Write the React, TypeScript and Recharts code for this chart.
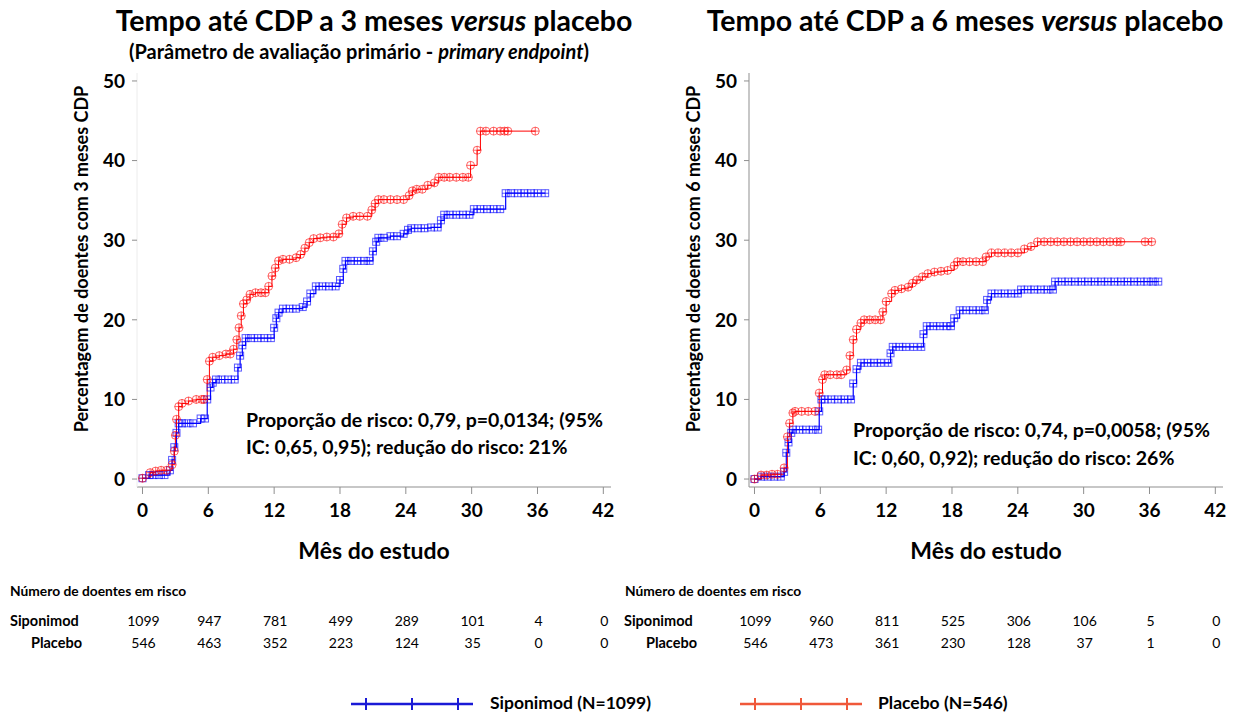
import React from "react";
import { LineChart, Line, XAxis, YAxis } from "recharts";

// months on the x axis (also the columns of the risk table)
const monthTicks = [0, 6, 12, 18, 24, 30, 36, 42];
const pctTicks = [0, 10, 20, 30, 40, 50];

// number of patients at risk, per month tick
const riskSipo3 = [1099, 947, 781, 499, 289, 101, 4, 0];
const riskPlac3 = [546, 463, 352, 223, 124, 35, 0, 0];
const riskSipo6 = [1099, 960, 811, 525, 306, 106, 5, 0];
const riskPlac6 = [546, 473, 361, 230, 128, 37, 1, 0];

// Kaplan-Meier curves: [month, % with CDP]
const sipo3: [number, number][] = [
  [0, 0.1], [0.6, 0.5], [1.0, 0.5], [1.5, 0.5], [2.0, 0.5], [2.5, 1.1], [2.7, 2.4], [2.9, 4.0],
  [3.1, 5.8], [3.3, 7.0], [3.6, 7.0], [4.1, 7.0], [4.6, 7.0], [5.3, 7.6], [5.7, 7.6], [5.9, 10.0],
  [6.2, 11.5], [6.4, 12.1], [6.7, 12.5], [7.2, 12.5], [7.8, 12.5], [8.4, 12.5], [8.7, 14.0],
  [8.9, 15.5], [9.1, 16.8], [9.4, 17.7], [9.9, 17.7], [10.5, 17.7], [11.1, 17.7], [11.7, 17.7],
  [12.0, 19.0], [12.2, 20.2], [12.4, 20.9], [12.8, 21.4], [13.4, 21.4], [14.0, 21.4], [14.6, 21.6],
  [15.0, 22.3], [15.3, 23.3], [15.8, 24.2], [16.4, 24.2], [17.0, 24.2], [17.6, 24.2], [18.0, 25.0],
  [18.3, 26.4], [18.5, 27.4], [19.0, 27.4], [19.6, 27.4], [20.2, 27.4], [20.7, 27.4], [21.0, 28.6],
  [21.3, 29.8], [21.5, 30.3], [22.0, 30.3], [22.6, 30.5], [23.2, 30.5], [23.8, 30.8], [24.2, 31.3],
  [24.5, 31.5], [25.1, 31.5], [25.7, 31.5], [26.3, 31.6], [26.9, 31.6], [27.2, 32.5], [27.5, 33.2],
  [28.0, 33.2], [28.6, 33.2], [29.2, 33.2], [29.8, 33.2], [30.2, 33.9], [30.8, 33.9], [31.4, 33.9],
  [32.0, 33.9], [32.6, 33.9], [33.1, 35.9], [33.6, 35.9], [34.2, 35.9], [34.8, 35.9], [35.4, 35.9],
  [36.0, 35.9], [36.7, 35.9],
];
const plac3: [number, number][] = [
  [0, 0.1], [0.7, 0.8], [1.2, 1.0], [1.7, 1.1], [2.2, 1.1], [2.7, 1.8], [2.9, 3.5], [3.0, 5.5],
  [3.1, 7.5], [3.3, 9.1], [3.6, 9.5], [4.2, 9.8], [4.9, 10.0], [5.4, 10.0], [5.6, 10.0], [5.9, 12.5],
  [6.1, 14.8], [6.4, 15.3], [7.0, 15.5], [7.6, 15.7], [8.0, 15.7], [8.3, 16.3], [8.6, 17.5],
  [8.8, 19.0], [9.0, 20.5], [9.2, 22.0], [9.5, 22.5], [9.8, 23.2], [10.3, 23.4], [10.8, 23.4],
  [11.2, 23.4], [11.5, 24.2], [11.8, 25.5], [12.1, 26.5], [12.4, 27.4], [12.8, 27.6], [13.4, 27.6],
  [14.0, 27.8], [14.4, 28.2], [14.8, 29.0], [15.2, 29.7], [15.6, 30.2], [16.2, 30.3], [16.8, 30.4],
  [17.4, 30.4], [17.9, 30.8], [18.2, 32.0], [18.6, 32.8], [19.2, 33.0], [19.8, 33.0], [20.5, 33.0],
  [20.9, 33.8], [21.2, 34.6], [21.5, 35.1], [22.0, 35.1], [22.6, 35.1], [23.2, 35.1], [23.8, 35.1],
  [24.3, 35.6], [24.6, 36.2], [25.0, 36.4], [25.5, 36.4], [26.0, 36.9], [26.6, 37.2], [27.0, 37.9],
  [27.5, 37.9], [28.0, 37.9], [28.6, 37.9], [29.2, 37.9], [29.7, 37.9], [29.9, 39.4], [30.5, 41.3],
  [30.8, 43.7], [31.3, 43.7], [32.0, 43.7], [32.6, 43.7], [33.0, 43.7], [33.3, 43.7], [35.8, 43.7],
];
const sipo6: [number, number][] = [
  [0, 0], [0.6, 0.3], [1.2, 0.3], [1.8, 0.3], [2.4, 0.3], [2.7, 0.9], [2.9, 3.3], [3.1, 4.6],
  [3.35, 5.8], [3.5, 6.2], [4.1, 6.2], [4.7, 6.2], [5.3, 6.2], [5.8, 6.2], [5.9, 8.5], [6.1, 10.0],
  [6.4, 10.0], [7.0, 10.0], [7.6, 10.0], [8.2, 10.0], [8.8, 10.0], [9.0, 12.0], [9.3, 13.8],
  [9.7, 14.6], [10.3, 14.6], [10.9, 14.6], [11.5, 14.6], [12.2, 14.6], [12.4, 15.8], [12.6, 16.6],
  [13.2, 16.6], [13.8, 16.6], [14.5, 16.6], [15.2, 16.6], [15.4, 18.2], [15.7, 19.2], [16.3, 19.2],
  [16.9, 19.2], [17.5, 19.2], [17.9, 19.2], [18.2, 20.2], [18.7, 21.2], [19.3, 21.2], [19.9, 21.2],
  [20.5, 21.2], [21.0, 21.2], [21.2, 22.5], [21.6, 23.3], [22.2, 23.3], [22.8, 23.3], [23.4, 23.3],
  [24.0, 23.3], [24.3, 23.8], [24.9, 23.8], [25.5, 23.8], [26.1, 23.8], [26.7, 23.8], [27.2, 23.8],
  [27.4, 24.8], [28.0, 24.8], [28.6, 24.8], [29.2, 24.8], [29.8, 24.8], [30.4, 24.8], [31.0, 24.8],
  [31.6, 24.8], [32.2, 24.8], [32.8, 24.8], [33.4, 24.8], [34.0, 24.8], [34.6, 24.8], [35.2, 24.8],
  [35.8, 24.8], [36.3, 24.8], [36.8, 24.8],
];
const plac6: [number, number][] = [
  [0, 0], [0.6, 0.5], [1.1, 0.5], [1.6, 0.6], [2.1, 0.6], [2.7, 1.4], [3.0, 5.3], [3.2, 7.0],
  [3.5, 8.3], [3.7, 8.5], [4.3, 8.5], [4.9, 8.5], [5.5, 8.5], [5.9, 10.8], [6.2, 12.5], [6.4, 13.1],
  [6.9, 13.1], [7.5, 13.1], [7.9, 13.1], [8.4, 13.7], [8.7, 15.5], [9.0, 17.5], [9.3, 18.8],
  [9.7, 19.6], [10.0, 20.0], [10.5, 20.0], [11.0, 20.0], [11.5, 20.0], [11.7, 21.0], [12.0, 22.3],
  [12.5, 23.3], [12.8, 23.7], [13.4, 23.9], [14.0, 24.1], [14.4, 24.6], [14.8, 25.0], [15.3, 25.4],
  [15.8, 25.8], [16.4, 26.0], [17.0, 26.1], [17.6, 26.2], [18.2, 26.8], [18.5, 27.3], [19.0, 27.3],
  [19.6, 27.3], [20.2, 27.3], [20.8, 27.3], [21.1, 27.9], [21.6, 28.4], [22.2, 28.4], [22.8, 28.4],
  [23.4, 28.4], [24.0, 28.4], [24.6, 28.9], [25.2, 29.2], [25.8, 29.8], [26.4, 29.8], [27.0, 29.8],
  [27.6, 29.8], [28.2, 29.8], [28.8, 29.8], [29.4, 29.8], [30.0, 29.8], [30.6, 29.8], [31.2, 29.8],
  [31.8, 29.8], [32.4, 29.8], [33.0, 29.8], [33.4, 29.8], [35.6, 29.8], [36.2, 29.8],
];

const FONT = 'Lato, "Open Sans", sans-serif';
const AXIS_GREY = "#8f8f8f";
const BLUE = "#0000ff";
const RED = "#ff0000";

const toRows = (pts: [number, number][]) => pts.map(([month, pct]) => ({ month, pct }));

const SquareDot = (props: any) => {
  const { cx, cy, index } = props;
  if (cx == null || cy == null) return <g key={index} />;
  return (
    <g key={index} stroke={BLUE} strokeOpacity={0.65} fill="none" strokeWidth={1}>
      <rect x={cx - 3.5} y={cy - 3.5} width={7} height={7} />
      <line x1={cx - 3.5} x2={cx + 3.5} y1={cy} y2={cy} />
      <line x1={cx} x2={cx} y1={cy - 3.5} y2={cy + 3.5} />
    </g>
  );
};

const CircleDot = (props: any) => {
  const { cx, cy, index } = props;
  if (cx == null || cy == null) return <g key={index} />;
  return (
    <g key={index} stroke={RED} strokeOpacity={0.6} fill="none" strokeWidth={1}>
      <circle cx={cx} cy={cy} r={4} />
      <line x1={cx - 4} x2={cx + 4} y1={cy} y2={cy} />
      <line x1={cx} x2={cx} y1={cy - 4} y2={cy + 4} />
    </g>
  );
};

type PanelProps = {
  sipo: [number, number][];
  plac: [number, number][];
  riskSipo: number[];
  riskPlac: number[];
  yLabel: string;
  faintYAxis?: boolean;
};

const Panel: React.FC<PanelProps> = ({ sipo, plac, riskSipo, riskPlac, yLabel, faintYAxis }) => {
  // month label under the axis, plus the at-risk counts of that month further down
  const MonthTick = (props: any) => {
    const { x, y, payload } = props;
    const i = monthTicks.indexOf(payload.value);
    return (
      <g fontFamily={FONT} fill="#000">
        <text x={x} y={y} dy="0.71em" textAnchor="middle" fontSize={19} fontWeight={700}>
          {payload.value}
        </text>
        <text x={x + 1} y={626} textAnchor="middle" fontSize={14}>{riskSipo[i]}</text>
        <text x={x + 1} y={648} textAnchor="middle" fontSize={14}>{riskPlac[i]}</text>
      </g>
    );
  };

  const YTitle = () => (
    <text
      x={81}
      y={259}
      transform="rotate(-90 81 259)"
      textAnchor="middle"
      dominantBaseline="central"
      fontFamily={FONT}
      fontSize={18}
      fontWeight={700}
      fill="#000"
    >
      {yLabel}
    </text>
  );

  return (
    <LineChart width={625} height={680} margin={{ top: 73, right: 14, bottom: 108, left: 0 }}>
      <XAxis
        dataKey="month"
        type="number"
        domain={[-0.5, 42.7]}
        ticks={monthTicks}
        allowDataOverflow
        height={85}
        stroke={AXIS_GREY}
        tickSize={7}
        tickMargin={10}
        tick={<MonthTick />}
        label={{
          value: "Mês do estudo",
          position: "insideBottom",
          offset: 13,
          style: { fill: "#000", fontSize: 23, fontWeight: 700, fontFamily: FONT },
        }}
      />
      <YAxis
        type="number"
        domain={[-1, 51]}
        ticks={pctTicks}
        allowDataOverflow
        width={137}
        axisLine={{ stroke: faintYAxis ? "#ececec" : AXIS_GREY }}
        tickLine={{ stroke: AXIS_GREY }}
        tickSize={5}
        tickMargin={7}
        tick={{ fill: "#000", fontSize: 19, fontWeight: 700, fontFamily: FONT }}
        label={<YTitle />}
      />
      <Line
        data={toRows(sipo)}
        dataKey="pct"
        type="stepAfter"
        stroke={BLUE}
        strokeWidth={1.2}
        dot={SquareDot}
        activeDot={false}
        isAnimationActive={false}
      />
      <Line
        data={toRows(plac)}
        dataKey="pct"
        type="stepAfter"
        stroke={RED}
        strokeWidth={1}
        dot={CircleDot}
        activeDot={false}
        isAnimationActive={false}
      />
    </LineChart>
  );
};

const abs = (left: number, top: number, extra: React.CSSProperties = {}): React.CSSProperties => ({
  position: "absolute",
  left,
  top,
  whiteSpace: "nowrap",
  fontFamily: FONT,
  fontWeight: 700,
  color: "#000",
  ...extra,
});

const LegendLine = ({ color }: { color: string }) => (
  <svg width={122} height={14} style={{ display: "block" }}>
    <line x1={0} x2={122} y1={7} y2={7} stroke={color} strokeWidth={2.5} />
    {[15, 61, 107].map((t) => (
      <line key={t} x1={t} x2={t} y1={1} y2={13} stroke={color} strokeWidth={2} />
    ))}
  </svg>
);

export default function App() {
  return (
    <div style={{ position: "absolute", left: 0, top: 0, width: 1250, height: 718, background: "#fff" }}>
      <div style={{ position: "absolute", left: 0, top: 0 }}>
        <Panel sipo={sipo3} plac={plac3} riskSipo={riskSipo3} riskPlac={riskPlac3}
          yLabel="Percentagem de doentes com 3 meses CDP" faintYAxis />
      </div>
      <div style={{ position: "absolute", left: 612, top: 0 }}>
        <Panel sipo={sipo6} plac={plac6} riskSipo={riskSipo6} riskPlac={riskPlac6}
          yLabel="Percentagem de doentes com 6 meses CDP" />
      </div>

      <div style={abs(0, 3, { width: 748, textAlign: "center", fontSize: 28.5 })}>
        Tempo até CDP a 3 meses <i>versus</i> placebo
      </div>
      <div style={abs(0, 39, { width: 718, textAlign: "center", fontSize: 20 })}>
        (Parâmetro de avaliação primário - <i>primary endpoint</i>)
      </div>
      <div style={abs(612, 3, { width: 706, textAlign: "center", fontSize: 28.5 })}>
        Tempo até CDP a 6 meses <i>versus</i> placebo
      </div>

      <div style={abs(246, 406, { fontSize: 19.5, lineHeight: "27px" })}>
        Proporção de risco: 0,79, p=0,0134; (95%<br />IC: 0,65, 0,95); redução do risco: 21%
      </div>
      <div style={abs(853, 416, { fontSize: 19.5, lineHeight: "28px" })}>
        Proporção de risco: 0,74, p=0,0058; (95%<br />IC: 0,60, 0,92); redução do risco: 26%
      </div>

      <div style={abs(10, 582, { fontSize: 13.8 })}>Número de doentes em risco</div>
      <div style={abs(10, 612, { fontSize: 14.5 })}>Siponimod</div>
      <div style={abs(0, 634, { fontSize: 14.5, width: 82, textAlign: "right" })}>Placebo</div>
      <div style={abs(625, 582, { fontSize: 13.8 })}>Número de doentes em risco</div>
      <div style={abs(624, 612, { fontSize: 14.5 })}>Siponimod</div>
      <div style={abs(612, 634, { fontSize: 14.5, width: 85, textAlign: "right" })}>Placebo</div>

      <div style={abs(351, 697)}><LegendLine color="#1a1ad6" /></div>
      <div style={abs(490, 692, { fontSize: 17.5 })}>Siponimod (N=1099)</div>
      <div style={abs(740, 697)}><LegendLine color="#f0583a" /></div>
      <div style={abs(878, 692, { fontSize: 17.5 })}>Placebo (N=546)</div>
    </div>
  );
}
